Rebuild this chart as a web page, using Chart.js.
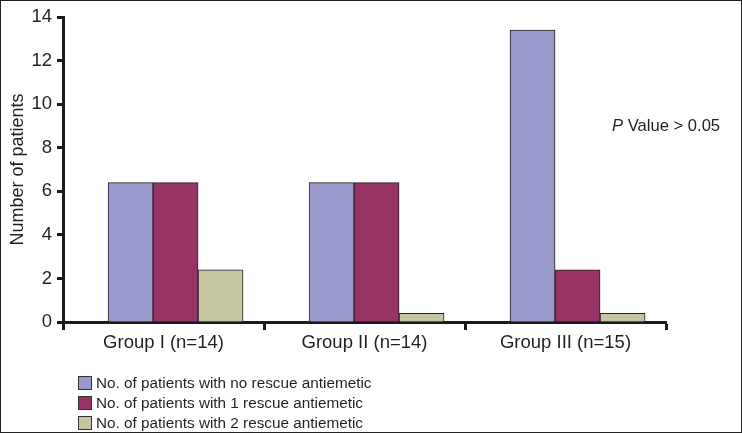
<!DOCTYPE html>
<html>
<head>
<meta charset="utf-8">
<script src="https://cdn.jsdelivr.net/npm/chart.js@4.4.1/dist/chart.umd.min.js"></script>
<style>
  html, body { margin: 0; padding: 0; background: #fff; }
  #wrap {
    position: relative; width: 742px; height: 433px;
    box-sizing: border-box; border: 1px solid #222; background: #fff;
  }
  #chart { display: block; }
  #legend {
    position: absolute; left: 77px; top: 372px;
    font: 15.3px "Liberation Sans", Arial, sans-serif; color: #231f20;
  }
  #legend .item { display: flex; align-items: center; height: 20px; }
  #legend .box {
    width: 12px; height: 12px; border: 1px solid #333; margin-right: 4px;
  }
</style>
</head>
<body>
<div id="wrap">
  <canvas id="chart" width="740" height="431"></canvas>
  <div id="legend"></div>
</div>
<script>
// values
const groups = ["Group I (n=14)", "Group II (n=14)", "Group III (n=15)"];
const noRescue = [6.4, 6.4, 13.4];
const oneRescue = [6.4, 6.4, 2.4];
const twoRescue = [2.4, 0.4, 0.4];
const seriesNames = [
    "No. of patients with no rescue antiemetic",
    "No. of patients with 1 rescue antiemetic",
    "No. of patients with 2 rescue antiemetic"
];
const yTicks = [0, 2, 4, 6, 8, 10, 12, 14];

const colors = ["#9999cc", "#993366", "#c6c6a2"];
const FONT = "'Liberation Sans', Arial, sans-serif";
const TEXT = "#231f20";

const toPoints = arr => arr.map((v, i) => ({ x: i, y: v }));

// "P Value > 0.05" note
const pValueNote = {
    id: "pValueNote",
    afterDraw(chart) {
        const { ctx, chartArea, scales } = chart;
        const y = scales.y.getPixelForValue(9);
        let x = chartArea.right - 54;
        ctx.save();
        ctx.fillStyle = TEXT;
        ctx.textBaseline = "middle";
        ctx.font = "italic 16.6px " + FONT;
        ctx.fillText("P", x, y);
        x += ctx.measureText("P ").width;
        ctx.font = "16.6px " + FONT;
        ctx.fillText("Value > 0.05", x, y);
        ctx.restore();
    }
};

const ctx = document.getElementById("chart").getContext("2d");
const chart = new Chart(ctx, {
    type: "bar",
    data: {
        labels: groups,
        datasets: [noRescue, oneRescue, twoRescue].map((vals, i) => ({
            label: seriesNames[i],
            data: toPoints(vals),
            xAxisID: "xb",
            backgroundColor: colors[i],
            borderColor: "#2a1e2a",
            borderWidth: 1,
            barThickness: 45
        }))
    },
    options: {
        responsive: false,
        animation: false,
        layout: { padding: { top: 16, right: 75, bottom: 0, left: 0 } },
        plugins: {
            legend: { display: false },
            tooltip: { enabled: false }
        },
        scales: {
            // hidden axis the bars sit on (bars are drawn a little right of each label)
            xb: {
                type: "linear",
                position: "bottom",
                display: false,
                offset: false,
                min: -0.56,
                max: 2.44,
                ticks: { stepSize: 1, includeBounds: false }
            },
            x: {
                type: "category",
                position: "bottom",
                offset: true,
                grid: {
                    offset: true,
                    drawOnChartArea: false,
                    drawTicks: true,
                    tickLength: 8,
                    tickWidth: 3,
                    tickColor: "#1a1a1a"
                },
                border: { display: true, width: 3, color: "#1a1a1a" },
                ticks: {
                    padding: 2,
                    color: TEXT,
                    font: { family: FONT, size: 18.5 },
                    maxRotation: 0
                },
                afterFit(scale) { scale.height = 110; }
            },
            y: {
                min: 0,
                max: 14,
                afterBuildTicks(scale) { scale.ticks = yTicks.map(v => ({ value: v })); },
                grid: {
                    drawOnChartArea: false,
                    drawTicks: true,
                    tickLength: 6,
                    tickWidth: 3,
                    tickColor: "#1a1a1a"
                },
                border: { display: true, width: 3, color: "#1a1a1a" },
                ticks: {
                    padding: 5,
                    color: TEXT,
                    font: { family: FONT, size: 18.5 }
                },
                title: {
                    display: true,
                    text: "Number of patients",
                    color: TEXT,
                    font: { family: FONT, size: 18 },
                    padding: { top: 6, bottom: 0 }
                },
                afterFit(scale) { scale.width = 62; }
            }
        }
    },
    plugins: [pValueNote]
});

// legend, one series per row
const legend = document.getElementById("legend");
chart.data.datasets.forEach(ds => {
    const item = document.createElement("div");
    item.className = "item";
    const box = document.createElement("span");
    box.className = "box";
    box.style.background = ds.backgroundColor;
    const txt = document.createElement("span");
    txt.textContent = ds.label;
    item.appendChild(box);
    item.appendChild(txt);
    legend.appendChild(item);
});
</script>
</body>
</html>
